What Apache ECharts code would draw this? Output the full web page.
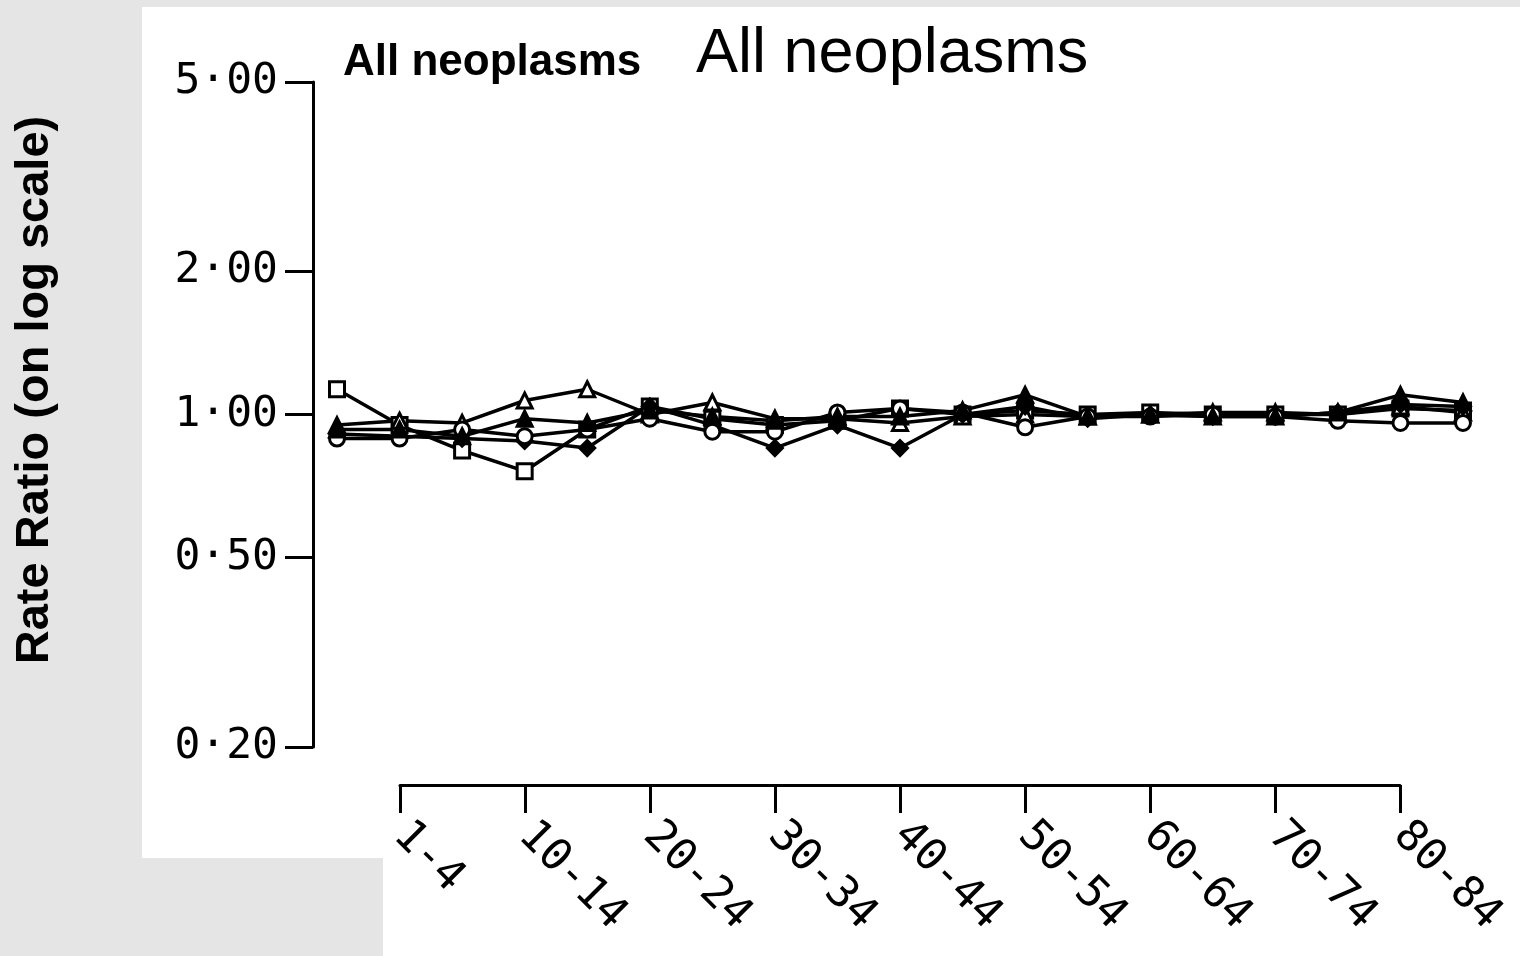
<!DOCTYPE html>
<html>
<head>
<meta charset="utf-8">
<script src="https://cdn.jsdelivr.net/npm/echarts@6/dist/echarts.min.js"></script>
<style>
  html, body { margin: 0; padding: 0; background: #e5e5e5; }
  #chart { width: 1520px; height: 956px; }
</style>
</head>
<body>
<div id="chart"></div>
<script>
// age groups, one point each
var ageGroups = ['0', '1-4', '5-9', '10-14', '15-19', '20-24', '25-29', '30-34', '35-39',
  '40-44', '45-49', '50-54', '55-59', '60-64', '65-69', '70-74', '75-79', '80-84', '85+'];
// the separate x axis only runs from 1-4 to 80-84
var axisGroups = ageGroups.slice(1, 18);
var yTicks = [0.2, 0.5, 1, 2, 5];

// rate ratios
var openSquare   = [1.13, 0.95, 0.84, 0.76, 0.93, 1.04, 0.98, 0.95, 0.97, 1.03, 1.00, 1.02, 1.00, 1.01, 1.00, 1.00, 1.00, 1.03, 1.02];
var openTriangle = [0.95, 0.97, 0.96, 1.07, 1.13, 1.00, 1.06, 0.98, 0.98, 0.96, 0.99, 1.00, 0.99, 1.00, 1.01, 1.01, 1.00, 1.04, 1.01];
var filledDiamond = [0.91, 0.90, 0.89, 0.88, 0.85, 1.04, 0.95, 0.85, 0.95, 0.85, 1.00, 1.04, 0.98, 1.00, 0.99, 0.99, 1.01, 1.05, 1.04];
var openCircle   = [0.89, 0.89, 0.93, 0.90, 0.93, 0.98, 0.92, 0.92, 1.01, 1.03, 1.01, 0.94, 0.99, 0.99, 1.00, 0.99, 0.97, 0.96, 0.96];
var filledTriangle = [0.93, 0.93, 0.90, 0.98, 0.96, 1.02, 0.99, 0.97, 0.99, 0.99, 1.02, 1.10, 0.99, 1.00, 0.99, 0.99, 1.01, 1.10, 1.06];

function line(name, data, symbol, fill) {
  return {
    name: name,
    type: 'line',
    xAxisIndex: 0,
    yAxisIndex: 0,
    data: data,
    symbol: symbol,
    symbolSize: 15,
    showAllSymbol: true,
    lineStyle: { color: '#000', width: 3.5 },
    itemStyle: { color: fill, borderColor: '#000', borderWidth: 3 }
  };
}

var chart = echarts.init(document.getElementById('chart'));
var option = {
  animation: false,
  backgroundColor: 'transparent',
  title: [{
    text: 'All neoplasms',
    left: 691, top: 18,
    textStyle: { fontFamily: 'Liberation Sans', fontSize: 63, fontWeight: 'normal', color: '#000' }
  }, {
    text: 'All neoplasms',
    left: 338, top: 36,
    textStyle: { fontFamily: 'Liberation Sans', fontSize: 44, fontWeight: 900, color: '#000' }
  }],
  graphic: [
    { type: 'rect', z: -10, shape: { x: 142, y: 7, width: 1378, height: 851 }, style: { fill: '#fff' } },
    { type: 'rect', z: -10, shape: { x: 383, y: 850, width: 1137, height: 106 }, style: { fill: '#fff' } },
    {
      type: 'text', x: 35, y: 390, rotation: Math.PI / 2,
      style: {
        text: 'Rate Ratio (on log scale)', fill: '#000',
        font: 'bold 47px "Liberation Sans"', align: 'center', verticalAlign: 'middle'
      }
    }
  ],
  grid: [
    { left: 337, right: 57, top: 82, bottom: 209 },
    { left: 400, right: 120, top: 784, height: 1 }
  ],
  xAxis: [{
    gridIndex: 0,
    type: 'category',
    data: ageGroups,
    boundaryGap: false,
    show: false
  }, {
    gridIndex: 1,
    type: 'category',
    data: axisGroups,
    boundaryGap: false,
    position: 'bottom',
    axisLine: { lineStyle: { color: '#000', width: 3 } },
    axisTick: { interval: 1, length: 28, lineStyle: { color: '#000', width: 3 } },
    axisLabel: {
      interval: 1, rotate: -45, margin: 44,
      fontFamily: 'DejaVu Sans Mono', fontSize: 44, color: '#000'
    },
    splitLine: { show: false }
  }],
  yAxis: [{
    gridIndex: 0,
    type: 'log',
    logBase: 10,
    min: 0.2,
    max: 5,
    offset: 24,
    axisLine: { show: true, lineStyle: { color: '#000', width: 3 } },
    axisTick: { show: true, customValues: yTicks, length: 28, lineStyle: { color: '#000', width: 3 } },
    axisLabel: {
      customValues: yTicks, margin: 35,
      fontFamily: 'DejaVu Sans Mono', fontSize: 43, color: '#000',
      formatter: function (v) { return Number(v).toFixed(2).replace('.', '·'); }
    },
    splitLine: { show: false }
  }, {
    gridIndex: 1,
    type: 'value',
    show: false
  }],
  series: [
    line('open square', openSquare, 'rect', '#fff'),
    line('open triangle', openTriangle, 'triangle', '#fff'),
    line('filled diamond', filledDiamond, 'diamond', '#000'),
    line('open circle', openCircle, 'circle', '#fff'),
    line('filled triangle', filledTriangle, 'triangle', '#000')
  ]
};
chart.setOption(option);
</script>
</body>
</html>
